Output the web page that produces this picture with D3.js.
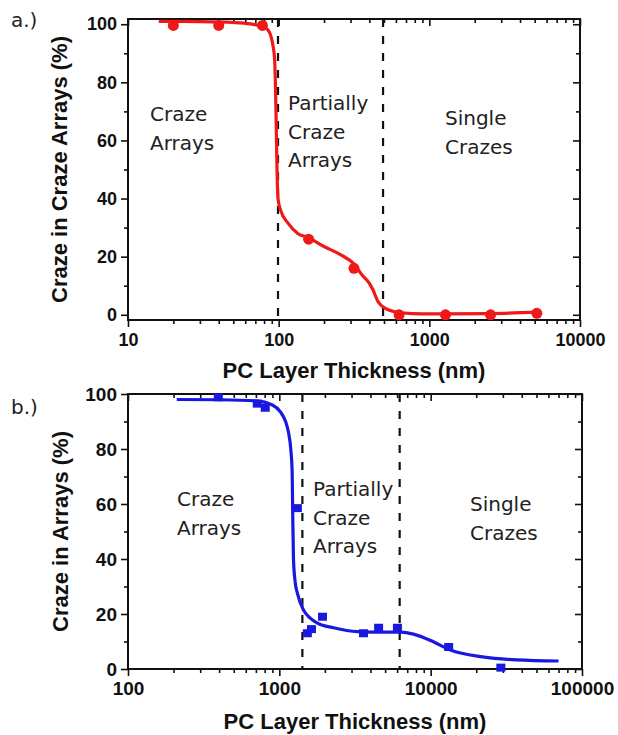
<!DOCTYPE html>
<meta charset="utf-8">
<style>
body { margin: 0; background: #fff; }
.frame { fill: none; stroke: #111; stroke-width: 2px; }
.tick line { stroke: #111; stroke-width: 1.6px; }
.tick text { fill: #111; font-weight: bold; }
.guide { stroke: #111; stroke-width: 2.2px; stroke-dasharray: 8,9; }
.region, .panel-tag { font-family: "DejaVu Sans", sans-serif; font-size: 20px; fill: #222; }
.title { font-family: "Liberation Sans", Arial, sans-serif; font-weight: bold; font-size: 22px; fill: #111; }
.fit { fill: none; stroke-width: 3.2px; }
</style>
<body>
<script src="https://d3js.org/d3.v7.min.js"></script>
<script>

// panel a.) measured points (red circles)
var aThick = [20, 40, 78, 158, 316, 630, 1280, 2550, 5170];
var aCraze = [99.6, 99.6, 99.6, 26, 16, 0, 0, 0, 0.5];
// panel a.) fitted curve
var aFitThick = [16, 30, 50, 65, 78, 85, 91, 94, 96, 97.5, 99, 103, 115, 134, 158, 200, 259, 316, 360, 400, 423, 457, 533, 650, 900, 1300, 2500, 5200];
var aFitCraze = [101, 100.9, 100.6, 100.1, 99.2, 98, 93.5, 88, 70, 50, 40, 36, 31.6, 28, 26.5, 23.5, 20.6, 17.5, 13.5, 10.8, 8.5, 4.5, 1.7, 0.7, 0.3, 0.3, 0.4, 0.9];
var aBounds = [99, 493];
var aTicksX = [10, 100, 1000, 10000];

// panel b.) measured points (blue squares)
var bThick = [395, 715, 807, 1316, 1531, 1630, 1928, 3600, 4530, 6030, 13150, 29100];
var bCraze = [98.8, 96.5, 95, 58.5, 13, 14.5, 19, 13, 15, 15, 8, 0.5];
// panel b.) fitted curve
var bFitThick = [210, 400, 700, 900, 1016, 1100, 1150, 1190, 1215, 1225, 1240, 1270, 1316, 1443, 1600, 1786, 2280, 3290, 5000, 6300, 7700, 10500, 13500, 22000, 37000, 70000];
var bFitCraze = [98, 97.9, 97.5, 96, 93.5, 90, 86, 80, 72, 58, 40, 32, 27.6, 21.5, 18.5, 16.7, 15, 13.6, 13.4, 13.4, 12.7, 9.8, 6.9, 4.4, 3.3, 2.9];
var bBounds = [1420, 6240];
var bTicksX = [100, 1000, 10000, 100000];

var yTicks = [0, 20, 40, 60, 80, 100];
var yMinor = [10, 30, 50, 70, 90];

var svg = d3.select("body").append("svg")
    .attr("width", 618)
    .attr("height", 735);

function drawPanel(p) {
  var x = d3.scaleLog().domain(p.xDomain).range([p.left, p.right]);
  var y = d3.scaleLinear().domain(p.yDomain).range([p.bottom, p.top]);
  var minorX = x.ticks().filter(function(v) { return p.xTicks.indexOf(v) < 0; });
  var g = svg.append("g");

  // bottom axis, ticks out
  g.append("g").attr("transform", "translate(0," + p.bottom + ")")
      .call(d3.axisBottom(x).tickValues(p.xTicks).tickFormat(d3.format("d")).tickSize(7).tickPadding(6))
      .attr("font-size", p.tickFont).attr("font-family", "Liberation Sans, Arial, sans-serif");
  g.append("g").attr("transform", "translate(0," + p.bottom + ")")
      .call(d3.axisBottom(x).tickValues(minorX).tickFormat("").tickSize(4));
  // top axis, ticks in
  g.append("g").attr("transform", "translate(0," + p.top + ")")
      .call(d3.axisTop(x).tickValues(p.xTicks).tickFormat("").tickSize(-7));
  g.append("g").attr("transform", "translate(0," + p.top + ")")
      .call(d3.axisTop(x).tickValues(minorX).tickFormat("").tickSize(-4));
  // left axis, ticks out
  g.append("g").attr("transform", "translate(" + p.left + ",0)")
      .call(d3.axisLeft(y).tickValues(yTicks).tickSize(7).tickPadding(4))
      .attr("font-size", p.tickFont).attr("font-family", "Liberation Sans, Arial, sans-serif");
  g.append("g").attr("transform", "translate(" + p.left + ",0)")
      .call(d3.axisLeft(y).tickValues(yMinor).tickFormat("").tickSize(4));
  // right axis, ticks in
  g.append("g").attr("transform", "translate(" + p.right + ",0)")
      .call(d3.axisRight(y).tickValues(yTicks).tickFormat("").tickSize(-7));
  g.append("g").attr("transform", "translate(" + p.right + ",0)")
      .call(d3.axisRight(y).tickValues(yMinor).tickFormat("").tickSize(-4));
  g.selectAll(".domain").remove();

  g.append("rect").attr("class", "frame")
      .attr("x", p.left).attr("y", p.top)
      .attr("width", p.right - p.left).attr("height", p.bottom - p.top);

  // regime boundaries
  g.selectAll(".guide").data(p.bounds).enter().append("line")
      .attr("class", "guide")
      .attr("x1", function(d) { return x(d); }).attr("x2", function(d) { return x(d); })
      .attr("y1", p.top).attr("y2", p.bottom);

  // fitted curve
  var line = d3.line()
      .x(function(d) { return x(d[0]); })
      .y(function(d) { return y(d[1]); })
      .curve(d3.curveMonotoneX);
  g.append("path").attr("class", "fit")
      .attr("stroke", p.color)
      .attr("d", line(d3.zip(p.fitX, p.fitY)));

  var pts = d3.zip(p.dataX, p.dataY);
  if (p.marker === "circle") {
    g.selectAll(".pt").data(pts).enter().append("circle")
        .attr("cx", function(d) { return x(d[0]); })
        .attr("cy", function(d) { return y(d[1]); })
        .attr("r", 5.5).attr("fill", p.color);
  } else {
    g.selectAll(".pt").data(pts).enter().append("rect")
        .attr("x", function(d) { return x(d[0]) - 4.5; })
        .attr("y", function(d) { return y(d[1]) - 4; })
        .attr("width", 9).attr("height", 8).attr("fill", p.color);
  }

  // region labels
  p.regions.forEach(function(r) {
    var t = g.append("text").attr("class", "region").attr("x", r.x).attr("y", r.y);
    r.lines.forEach(function(s, i) {
      t.append("tspan").attr("x", r.x).attr("dy", i ? 28.5 : 0).text(s);
    });
  });

  g.append("text").attr("class", "panel-tag").attr("x", 11).attr("y", p.tagY).text(p.tag);

  g.append("text").attr("class", "title")
      .attr("x", (p.left + p.right) / 2).attr("y", p.xTitleY)
      .attr("text-anchor", "middle").text("PC Layer Thickness (nm)");
  g.append("text").attr("class", "title")
      .attr("transform", "translate(" + p.yTitleX + "," + (p.top + p.bottom) / 2 + ") rotate(-90)")
      .attr("text-anchor", "middle").text(p.yTitle);
}

drawPanel({
  left: 128, right: 580, top: 19, bottom: 320,
  xDomain: [10, 10000], yDomain: [-1.8, 101.8], xTicks: aTicksX, tickFont: 18,
  bounds: aBounds, color: "#f01818", marker: "circle",
  dataX: aThick, dataY: aCraze, fitX: aFitThick, fitY: aFitCraze,
  regions: [
    {lines: ["Craze", "Arrays"], x: 150, y: 121},
    {lines: ["Partially", "Craze", "Arrays"], x: 288, y: 110},
    {lines: ["Single", "Crazes"], x: 445, y: 125}
  ],
  tag: "a.)", tagY: 27, xTitleY: 378, yTitleX: 67, yTitle: "Craze in Craze Arrays (%)"
});

drawPanel({
  left: 128, right: 582, top: 394, bottom: 669,
  xDomain: [100, 100000], yDomain: [0, 100], xTicks: bTicksX, tickFont: 19,
  bounds: bBounds, color: "#1818e0", marker: "square",
  dataX: bThick, dataY: bCraze, fitX: bFitThick, fitY: bFitCraze,
  regions: [
    {lines: ["Craze", "Arrays"], x: 177, y: 506},
    {lines: ["Partially", "Craze", "Arrays"], x: 313, y: 496},
    {lines: ["Single", "Crazes"], x: 470, y: 511}
  ],
  tag: "b.)", tagY: 414, xTitleY: 729, yTitleX: 68, yTitle: "Craze in Arrays (%)"
});

</script>
